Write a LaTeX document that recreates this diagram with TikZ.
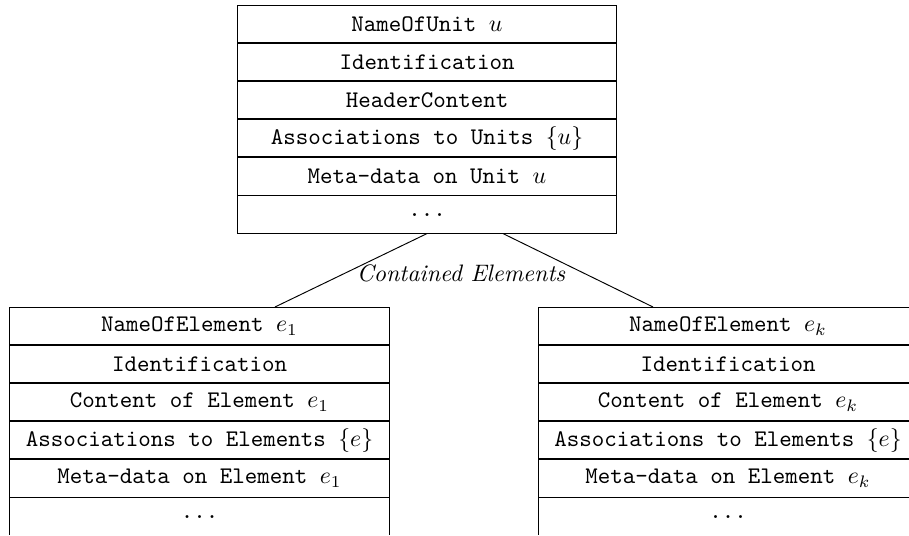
\documentclass[tikz,border=0pt]{standalone}
\usetikzlibrary{positioning}
\begin{document}
\begin{tikzpicture}[x=0.42pt,y=-0.42pt,
  rowbox/.style={draw, minimum width=159.4pt, minimum height=15.6pt, inner sep=0pt, font=\ttfamily},
  lbl/.style={font=\itshape, inner sep=0pt}]
\useasboundingbox (0,0) rectangle (909,535);
\clip (0,0) rectangle (909,534);
% top box
\node[rowbox, anchor=north] (u1) at (427,5) {NameOfUnit $u$};
\node[rowbox, below=0pt of u1] (u2) {Identification};
\node[rowbox, below=0pt of u2] (u3) {HeaderContent};
\node[rowbox, below=0pt of u3] (u4) {Associations to Units $\{u\}$};
\node[rowbox, below=0pt of u4] (u5) {Meta-data on Unit $u$};
\node[rowbox, below=0pt of u5] (u6) {...};
% left box
\node[rowbox, anchor=north] (a1) at (199.5,307) {NameOfElement $e_1$};
\node[rowbox, below=0pt of a1] (a2) {Identification};
\node[rowbox, below=0pt of a2] (a3) {Content of Element $e_1$};
\node[rowbox, below=0pt of a3] (a4) {Associations to Elements $\{e\}$};
\node[rowbox, below=0pt of a4] (a5) {Meta-data on Element $e_1$};
\node[rowbox, below=0pt of a5] (a6) {...};
% right box
\node[rowbox, anchor=north] (b1) at (728,307) {NameOfElement $e_k$};
\node[rowbox, below=0pt of b1] (b2) {Identification};
\node[rowbox, below=0pt of b2] (b3) {Content of Element $e_k$};
\node[rowbox, below=0pt of b3] (b4) {Associations to Elements $\{e\}$};
\node[rowbox, below=0pt of b4] (b5) {Meta-data on Element $e_k$};
\node[rowbox, below=0pt of b5] (b6) {...};
% connectors
\draw (u6.south) -- ([xshift=31.7pt]a1.north);
\draw ([xshift=31.9pt]u6.south) -- ([xshift=-31.5pt]b1.north);
\node[lbl] (lab) at (461,273) {Contained Elements};
\end{tikzpicture}
\end{document}
